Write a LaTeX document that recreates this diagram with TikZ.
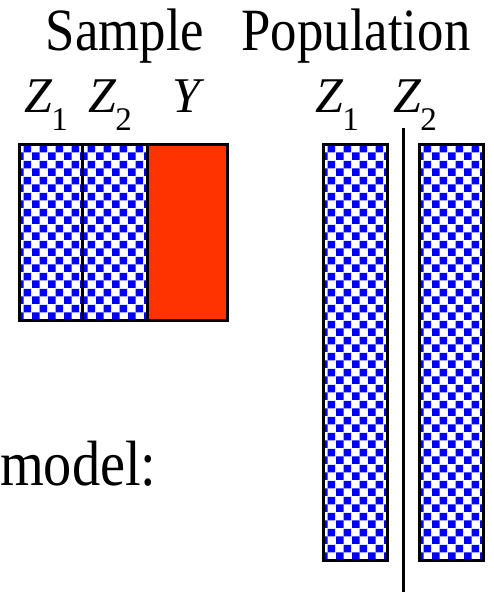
\documentclass[tikz,border=0pt]{standalone}
\usepackage{fontspec}
\setmainfont{Liberation Serif}
\usetikzlibrary{patterns.meta}

\definecolor{yred}{RGB}{255,51,0}
\tikzdeclarepattern{name=checks,type=uncolored,
  bounding box={(0pt,0pt) and (16pt,16pt)},tile size={(16pt,16pt)},
  code={\fill (0pt,0pt) rectangle (8pt,8pt);
        \fill (8pt,8pt) rectangle (16pt,16pt);}}
\newcommand{\zvar}[1]{\textit{Z}\kern-1pt\raisebox{-18pt}{\fontsize{33}{33}\selectfont #1}}

\begin{document}
\begin{tikzpicture}[x=1pt,y=-1pt,
  head/.style={font=\fontsize{60}{60}\selectfont,inner sep=0pt,anchor=base,xscale=.88,transform shape},
  var/.style={font=\fontsize{50}{50}\selectfont,inner sep=0pt,anchor=base west},
  col/.style={draw=black,line width=3pt,pattern=checks,pattern color=blue},
  ycol/.style={draw=black,line width=3pt,fill=yred}]
\useasboundingbox (0,0) rectangle (493,592);

% headings
\node[head] (sample) at (125,50) {Sample};
\node[head] (population) at (356,50) {Population};

% variable names
\node[var] (sz1) at (24,112) {\zvar{1}};
\node[var] (sz2) at (88,112) {\zvar{2}};
\node[var] (sy) at (172,112) {\textit{Y}};
\node[var] (pz1) at (315,112) {\zvar{1}};
\node[var] (pz2) at (393,112) {\zvar{2}};

% sample columns
\draw[col] (19,144) rectangle (82,320);
\draw[col] (82,144) rectangle (147,320);
\draw[ycol] (147,144) rectangle (227,320);

% population columns
\draw[col] (323,144) rectangle (387,560);
\draw[col] (419,144) rectangle (483,560);

\coordinate (cut top) at (403,128);
\coordinate (cut bottom) at (403,592);
\draw[line width=3pt] (cut top) -- (cut bottom);

\node[head,anchor=base west,font=\fontsize{64}{64}\selectfont] (model) at (0,485) {model:};
\end{tikzpicture}
\end{document}
